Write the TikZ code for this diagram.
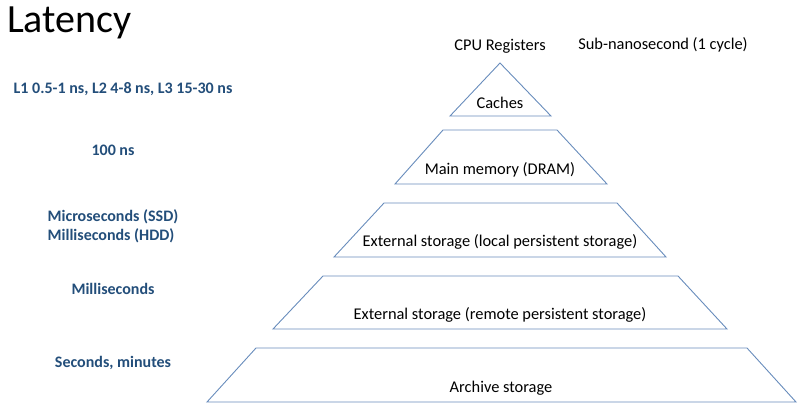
\documentclass[tikz,border=0pt]{standalone}
\usepackage{fontspec}
\setmainfont{Carlito}
\usetikzlibrary{positioning}
\definecolor{tierline}{RGB}{104,140,188}
\definecolor{latblue}{RGB}{35,78,122}
\tikzset{
    tier/.style={draw=tierline,line width=0.9pt,line join=miter},
    tierlabel/.style={font=\fontsize{16.4}{18}\selectfont,inner sep=0pt},
    latlabel/.style={font=\fontsize{16}{19}\selectfont\bfseries,text=latblue,inner sep=0pt}
}

\begin{document}
\begin{tikzpicture}[x=1pt,y=-1pt]
        \useasboundingbox (0,0) rectangle (805,413);

        % pyramid, top to bottom
        \draw[tier] (500,63) -- (551,116) -- (450,116) -- cycle;
        \draw[tier] (443,130) -- (557,130) -- (607,184) -- (395,184) -- cycle;
        \draw[tier] (384,203) -- (617,203) -- (666,257) -- (334,257) -- cycle;
        \draw[tier] (323,276) -- (678,276) -- (727,329) -- (273,329) -- cycle;
        \draw[tier] (256,348) -- (747,348) -- (796,402) -- (207,402) -- cycle;

        \node[tierlabel] (reg) at (500,46) {CPU Registers};
        \node[tierlabel] (cache) at (500,103) {Caches};
        \node[tierlabel] (dram) at (500,170) {Main memory (DRAM)};
        \node[tierlabel] (local) at (500,242) {External storage (local persistent storage)};
        \node[tierlabel] (remote) at (500,315) {External storage (remote persistent storage)};
        \node[tierlabel] (archive) at (501,388) {Archive storage};

        \node[tierlabel] (subns) at (663,45) {Sub-nanosecond (1 cycle)};

        \node[anchor=west,inner sep=0pt,font=\fontsize{40}{44}\selectfont] (title) at (7,23) {Latency};

        % latencies on the left
        \node[latlabel] (lcache) at (123,89) {L1 0.5-1 ns, L2 4-8 ns, L3 15-30 ns};
        \node[latlabel] (ldram) at (113,150) {100 ns};
        \node[latlabel,align=left] (llocal) at (113,226) {Microseconds (SSD)\\Milliseconds (HDD)};
        \node[latlabel] (lremote) at (113,289) {Milliseconds};
        \node[latlabel] (larchive) at (113,363) {Seconds, minutes};
    \end{tikzpicture}
\end{document}
